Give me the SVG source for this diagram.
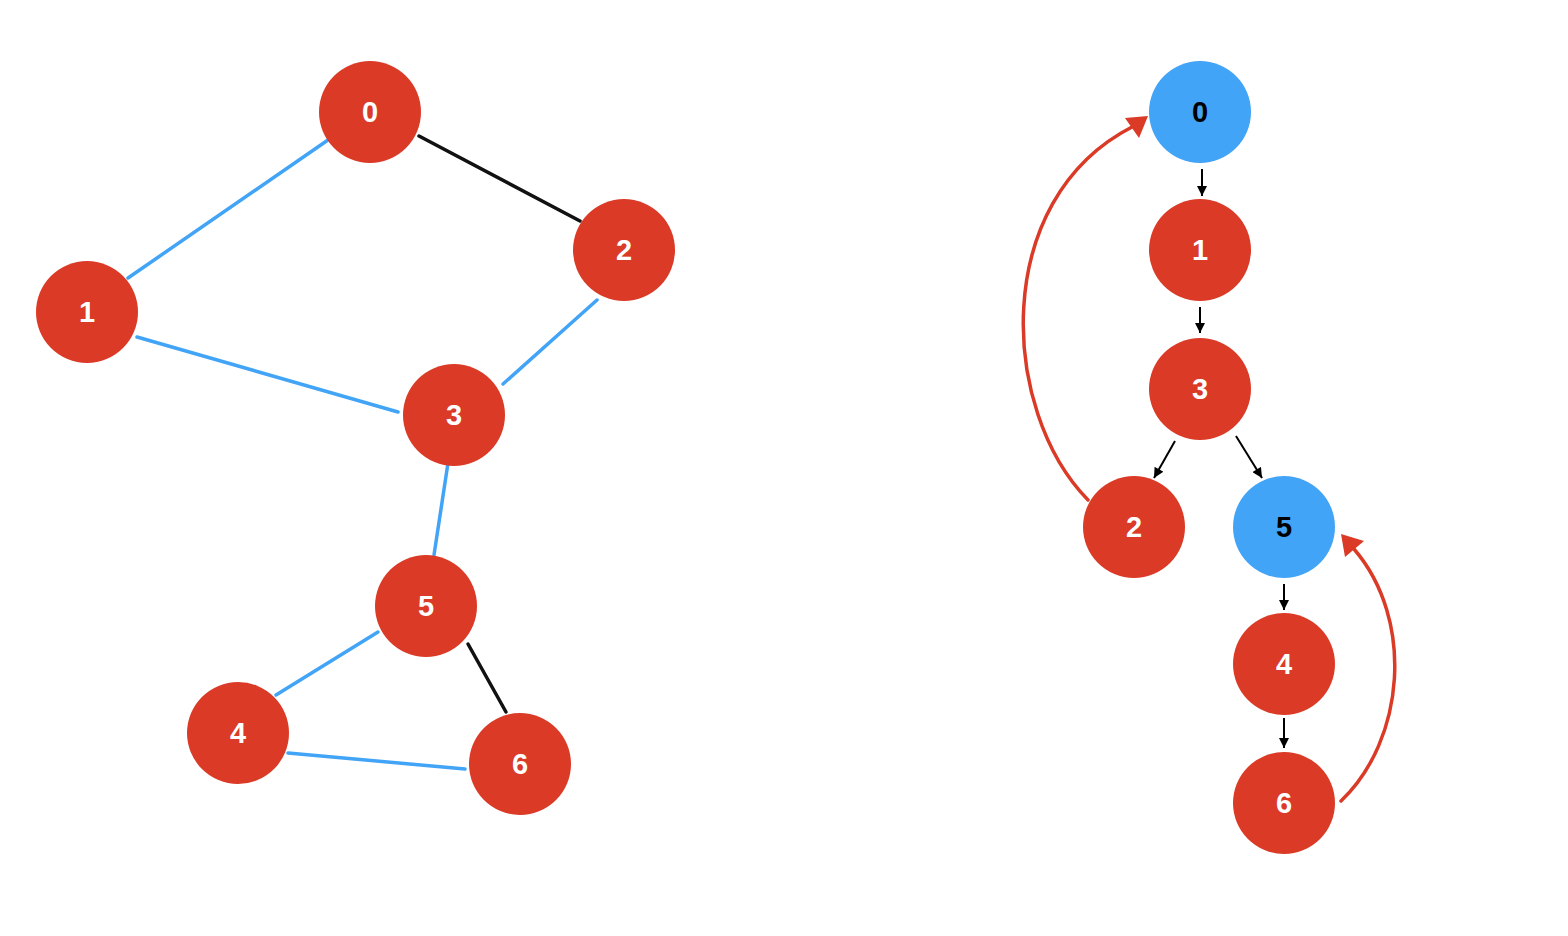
<svg xmlns="http://www.w3.org/2000/svg" width="1568" height="936" viewBox="0 0 1568 936">
<style>
.r{fill:#DA3A26}
.b{fill:#42A4F7}
.t{font-family:"Liberation Sans",Arial,sans-serif;font-size:29px;font-weight:bold;text-anchor:middle;dominant-baseline:central}
.w{fill:#fff}
.k{fill:#000}
.eb{stroke:#42A4F7;stroke-width:3.5;fill:none;stroke-linecap:round}
.ek{stroke:#111;stroke-width:3.5;fill:none;stroke-linecap:round}
.ar{stroke:#000;stroke-width:2;fill:none}
.cu{stroke:#DA3A26;stroke-width:3.5;fill:none;stroke-linecap:round}
.rh{fill:#DA3A26}
</style>
<defs>
<marker id="ah" viewBox="0 0 10 10" refX="10" refY="5" markerWidth="11" markerHeight="10" orient="auto" markerUnits="userSpaceOnUse">
<path d="M0,0 L10,5 L0,10 z" fill="#000"/>
</marker>
</defs>
<rect width="1568" height="936" fill="#fff"/>
<g id="connectors">
<line class="eb" x1="328" y1="140" x2="128" y2="278"/>
<line class="ek" x1="419" y1="136" x2="580" y2="221"/>
<line class="eb" x1="137" y1="337" x2="398" y2="412"/>
<line class="eb" x1="597" y1="300" x2="503" y2="384"/>
<line class="eb" x1="448" y1="463" x2="434" y2="555"/>
<line class="eb" x1="378" y1="632" x2="276" y2="695"/>
<line class="ek" x1="468" y1="644" x2="506" y2="712"/>
<line class="eb" x1="288" y1="753" x2="465" y2="769"/>
<line class="ar" x1="1202" y1="169" x2="1202" y2="196" marker-end="url(#ah)"/>
<line class="ar" x1="1200" y1="307" x2="1200" y2="333" marker-end="url(#ah)"/>
<line class="ar" x1="1175" y1="441" x2="1154" y2="478" marker-end="url(#ah)"/>
<line class="ar" x1="1236" y1="436" x2="1262" y2="478" marker-end="url(#ah)"/>
<line class="ar" x1="1284" y1="584" x2="1284" y2="610" marker-end="url(#ah)"/>
<line class="ar" x1="1284" y1="718" x2="1284" y2="748" marker-end="url(#ah)"/>
<path class="cu" d="M1088,500 C1000,410 990,200 1132,127"/>
<polygon class="rh" points="1148,116 1125,118 1139,138"/>
<path class="cu" d="M1341,801 C1405,740 1415,620 1354,549"/>
<polygon class="rh" points="1341,534 1364,541 1345,557"/>
</g>
<g id="L0"><circle class="r" cx="370" cy="112" r="51"/><text class="t w" x="370" y="112">0</text></g>
<g id="L1"><circle class="r" cx="87" cy="312" r="51"/><text class="t w" x="87" y="312">1</text></g>
<g id="L2"><circle class="r" cx="624" cy="250" r="51"/><text class="t w" x="624" y="250">2</text></g>
<g id="L3"><circle class="r" cx="454" cy="415" r="51"/><text class="t w" x="454" y="415">3</text></g>
<g id="L4"><circle class="r" cx="238" cy="733" r="51"/><text class="t w" x="238" y="733">4</text></g>
<g id="L5"><circle class="r" cx="426" cy="606" r="51"/><text class="t w" x="426" y="606">5</text></g>
<g id="L6"><circle class="r" cx="520" cy="764" r="51"/><text class="t w" x="520" y="764">6</text></g>
<g id="R0"><circle class="b" cx="1200" cy="112" r="51"/><text class="t k" x="1200" y="112">0</text></g>
<g id="R1"><circle class="r" cx="1200" cy="250" r="51"/><text class="t w" x="1200" y="250">1</text></g>
<g id="R3"><circle class="r" cx="1200" cy="389" r="51"/><text class="t w" x="1200" y="389">3</text></g>
<g id="R2"><circle class="r" cx="1134" cy="527" r="51"/><text class="t w" x="1134" y="527">2</text></g>
<g id="R5"><circle class="b" cx="1284" cy="527" r="51"/><text class="t k" x="1284" y="527">5</text></g>
<g id="R4"><circle class="r" cx="1284" cy="664" r="51"/><text class="t w" x="1284" y="664">4</text></g>
<g id="R6"><circle class="r" cx="1284" cy="803" r="51"/><text class="t w" x="1284" y="803">6</text></g>
</svg>
